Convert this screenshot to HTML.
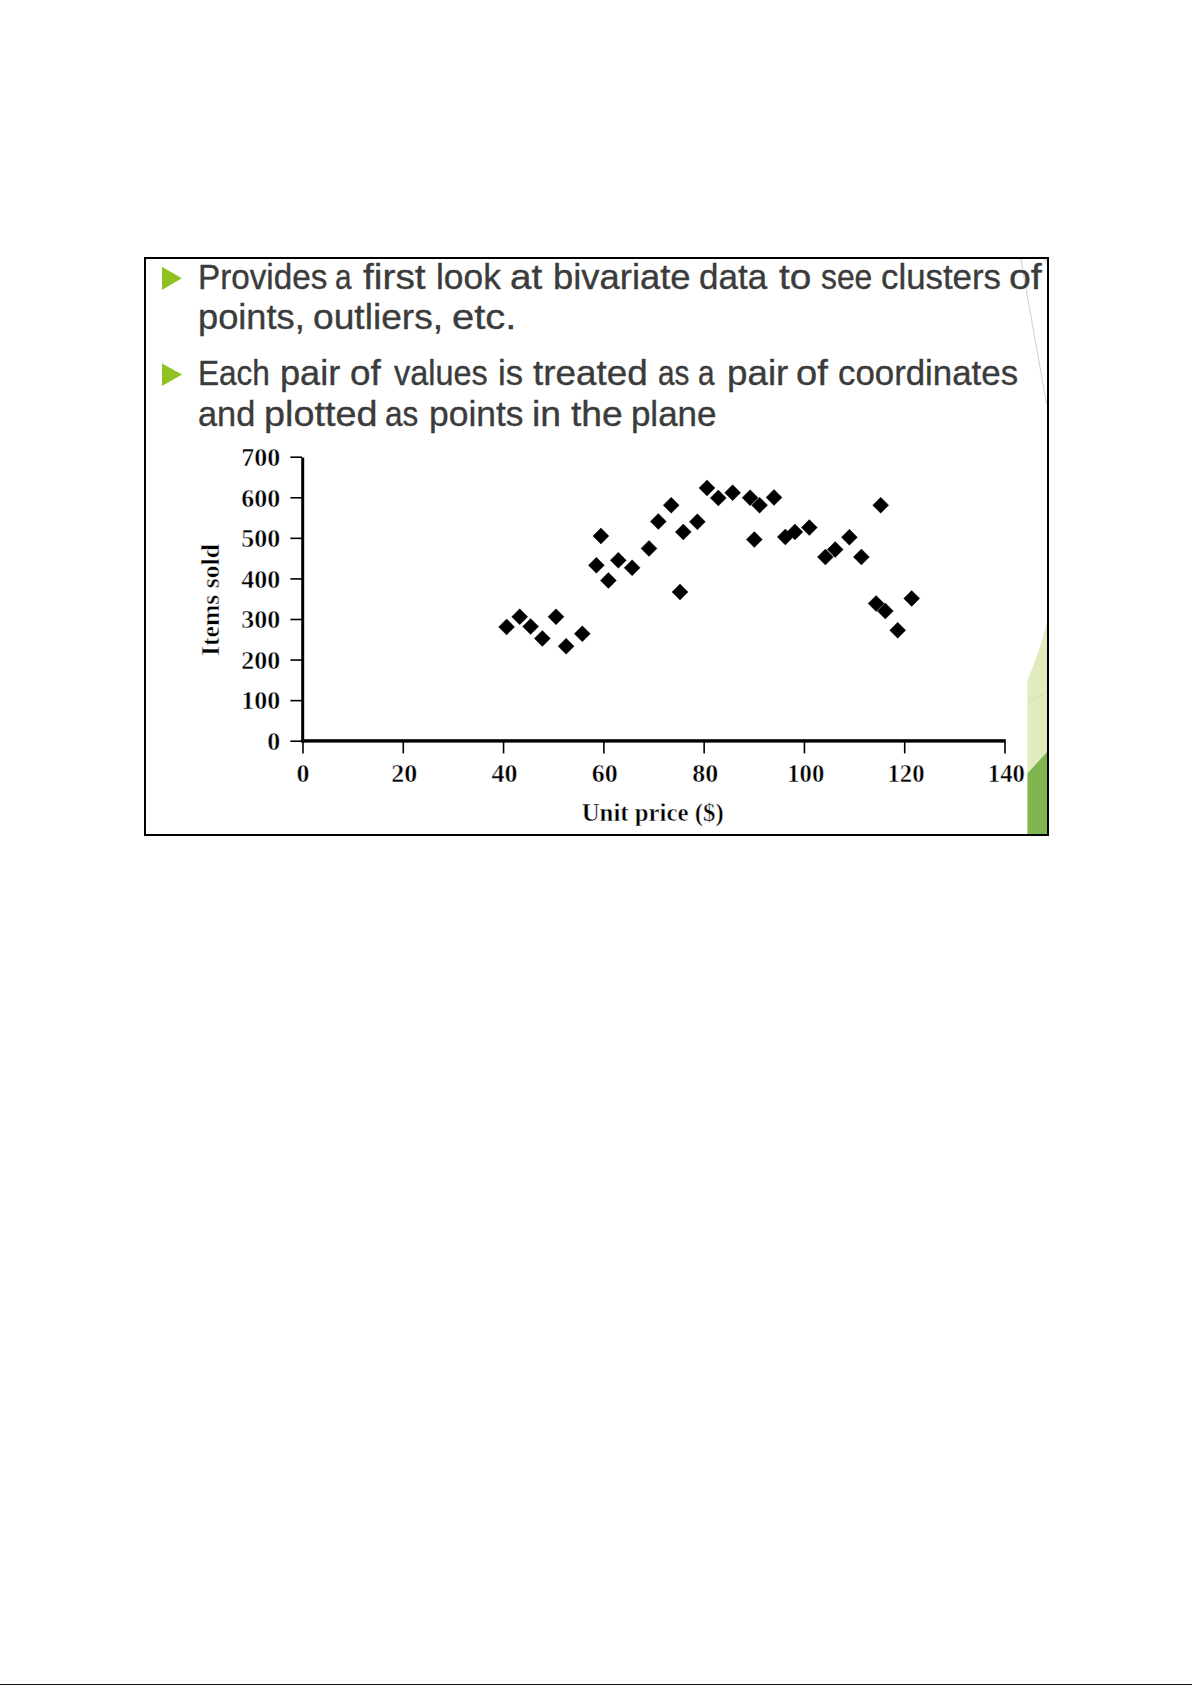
<!DOCTYPE html>
<html><head><meta charset="utf-8"><style>
html,body{margin:0;padding:0;background:#fff;}
body{width:1192px;height:1685px;position:relative;overflow:hidden;}
.t{position:absolute;left:0;top:0;white-space:nowrap;font-family:"Liberation Sans",sans-serif;font-size:35px;color:#3b3b3b;line-height:1;transform-origin:0 0;-webkit-text-stroke:0.35px #3b3b3b;}
svg{position:absolute;left:0;top:0;}
</style></head><body>
<svg width="1192" height="1685" viewBox="0 0 1192 1685">
  <!-- slide decorations -->
  <line x1="1020.8" y1="259" x2="1046.5" y2="404" stroke="#cfcfcf" stroke-width="1"/>
  <path d="M1047 622.3 Q1040 651 1027.5 680 L1027.5 834 L1047 834 Z" fill="#e0ecbd"/>
  <line x1="1028" y1="703" x2="1047" y2="691" stroke="#cfe0b0" stroke-width="1"/>
  <path d="M1027.5 773.5 L1047 752 L1047 834 L1027.5 834 Z" fill="#7eb550"/>
  <path d="M1042.5 259 L1047 259 L1047 265 Z" fill="#e3f1d3"/>
  <!-- frame -->
  <rect x="145" y="258" width="903" height="577" fill="none" stroke="#000" stroke-width="2"/>
  <!-- bullets -->
  <path d="M162 266.8 L181.8 278.3 L162 289.9 Z" fill="#91c224"/>
  <path d="M162 363.6 L182.1 374.6 L162 385.9 Z" fill="#91c224"/>
  <!-- chart -->
  <g stroke="#000" stroke-width="1.6"><line x1="290.4" y1="741.20" x2="302" y2="741.20"/><line x1="290.4" y1="700.63" x2="302" y2="700.63"/><line x1="290.4" y1="660.06" x2="302" y2="660.06"/><line x1="290.4" y1="619.49" x2="302" y2="619.49"/><line x1="290.4" y1="578.91" x2="302" y2="578.91"/><line x1="290.4" y1="538.34" x2="302" y2="538.34"/><line x1="290.4" y1="497.77" x2="302" y2="497.77"/><line x1="290.4" y1="457.20" x2="302" y2="457.20"/><line x1="303.00" y1="742" x2="303.00" y2="753.4"/><line x1="403.29" y1="742" x2="403.29" y2="753.4"/><line x1="503.57" y1="742" x2="503.57" y2="753.4"/><line x1="603.86" y1="742" x2="603.86" y2="753.4"/><line x1="704.14" y1="742" x2="704.14" y2="753.4"/><line x1="804.43" y1="742" x2="804.43" y2="753.4"/><line x1="904.71" y1="742" x2="904.71" y2="753.4"/><line x1="1005.00" y1="742" x2="1005.00" y2="753.4"/></g>
  <rect x="301.2" y="457.5" width="3" height="285" fill="#000"/>
  <rect x="301.2" y="739.2" width="704.6" height="3.4" fill="#000"/>
  <g fill="#000" stroke="#000" stroke-width="0.4" stroke-linejoin="miter"><path d="M498.6 626.9L506.6 618.9L514.6 626.9L506.6 634.9Z"/><path d="M511.7 616.8L519.7 608.8L527.7 616.8L519.7 624.8Z"/><path d="M522.6 626.5L530.6 618.5L538.6 626.5L530.6 634.5Z"/><path d="M534.3 638.4L542.3 630.4L550.3 638.4L542.3 646.4Z"/><path d="M548.0 616.8L556.0 608.8L564.0 616.8L556.0 624.8Z"/><path d="M558.1 646.3L566.1 638.3L574.1 646.3L566.1 654.3Z"/><path d="M574.3 633.8L582.3 625.8L590.3 633.8L582.3 641.8Z"/><path d="M592.9 536.0L600.9 528.0L608.9 536.0L600.9 544.0Z"/><path d="M588.4 565.3L596.4 557.3L604.4 565.3L596.4 573.3Z"/><path d="M610.3 560.3L618.3 552.3L626.3 560.3L618.3 568.3Z"/><path d="M600.4 580.4L608.4 572.4L616.4 580.4L608.4 588.4Z"/><path d="M624.1 567.8L632.1 559.8L640.1 567.8L632.1 575.8Z"/><path d="M641.0 548.4L649.0 540.4L657.0 548.4L649.0 556.4Z"/><path d="M650.3 521.5L658.3 513.5L666.3 521.5L658.3 529.5Z"/><path d="M663.2 505.2L671.2 497.2L679.2 505.2L671.2 513.2Z"/><path d="M675.3 531.9L683.3 523.9L691.3 531.9L683.3 539.9Z"/><path d="M689.4 521.8L697.4 513.8L705.4 521.8L697.4 529.8Z"/><path d="M672.0 592.0L680.0 584.0L688.0 592.0L680.0 600.0Z"/><path d="M699.0 487.9L707.0 479.9L715.0 487.9L707.0 495.9Z"/><path d="M710.3 497.9L718.3 489.9L726.3 497.9L718.3 505.9Z"/><path d="M724.6 492.7L732.6 484.7L740.6 492.7L732.6 500.7Z"/><path d="M742.1 497.7L750.1 489.7L758.1 497.7L750.1 505.7Z"/><path d="M751.6 505.2L759.6 497.2L767.6 505.2L759.6 513.2Z"/><path d="M766.0 497.4L774.0 489.4L782.0 497.4L774.0 505.4Z"/><path d="M746.3 539.5L754.3 531.5L762.3 539.5L754.3 547.5Z"/><path d="M777.3 536.9L785.3 528.9L793.3 536.9L785.3 544.9Z"/><path d="M786.9 531.9L794.9 523.9L802.9 531.9L794.9 539.9Z"/><path d="M801.3 527.6L809.3 519.6L817.3 527.6L809.3 535.6Z"/><path d="M841.4 537.3L849.4 529.3L857.4 537.3L849.4 545.3Z"/><path d="M827.2 549.6L835.2 541.6L843.2 549.6L835.2 557.6Z"/><path d="M817.4 557.0L825.4 549.0L833.4 557.0L825.4 565.0Z"/><path d="M853.4 557.0L861.4 549.0L869.4 557.0L861.4 565.0Z"/><path d="M872.7 505.2L880.7 497.2L888.7 505.2L880.7 513.2Z"/><path d="M868.1 603.5L876.1 595.5L884.1 603.5L876.1 611.5Z"/><path d="M877.3 611.0L885.3 603.0L893.3 611.0L885.3 619.0Z"/><path d="M903.7 598.4L911.7 590.4L919.7 598.4L911.7 606.4Z"/><path d="M889.7 630.3L897.7 622.3L905.7 630.3L897.7 638.3Z"/></g>
  <g font-family="Liberation Serif" font-weight="bold" font-size="26" fill="#000" stroke="#fff" stroke-width="0.5"><text x="280.3" y="750.00" text-anchor="end">0</text><text x="280.3" y="709.43" text-anchor="end">100</text><text x="280.3" y="668.86" text-anchor="end">200</text><text x="280.3" y="628.29" text-anchor="end">300</text><text x="280.3" y="587.71" text-anchor="end">400</text><text x="280.3" y="547.14" text-anchor="end">500</text><text x="280.3" y="506.57" text-anchor="end">600</text><text x="280.3" y="466.00" text-anchor="end">700</text><text x="303.00" y="782" text-anchor="middle">0</text><text x="404.29" y="782" text-anchor="middle">20</text><text x="504.57" y="782" text-anchor="middle">40</text><text x="604.86" y="782" text-anchor="middle">60</text><text x="705.14" y="782" text-anchor="middle">80</text><text x="805.73" y="782" text-anchor="middle" textLength="37" lengthAdjust="spacingAndGlyphs">100</text><text x="906.01" y="782" text-anchor="middle" textLength="37" lengthAdjust="spacingAndGlyphs">120</text><text x="1006.30" y="782" text-anchor="middle" textLength="37" lengthAdjust="spacingAndGlyphs">140</text>
  <text x="652.7" y="820.7" text-anchor="middle" font-size="26" textLength="142" lengthAdjust="spacingAndGlyphs">Unit price ($)</text>
  <text transform="translate(218.8 600) rotate(-90)" text-anchor="middle" font-size="26" textLength="112" lengthAdjust="spacingAndGlyphs">Items sold</text>
  </g>
  <rect x="0" y="1684" width="1192" height="1" fill="#111"/>
</svg>
<div class="t" style="left:197.65px;top:258.5px;transform:scaleX(0.950)">Provides</div><div class="t" style="left:335.10px;top:258.5px;transform:scaleX(0.850)">a</div><div class="t" style="left:362.89px;top:258.5px;transform:scaleX(1.111)">first</div><div class="t" style="left:436.18px;top:258.5px;transform:scaleX(1.010)">look</div><div class="t" style="left:510.29px;top:258.5px;transform:scaleX(1.104)">at</div><div class="t" style="left:553.02px;top:258.5px;transform:scaleX(1.040)">bivariate</div><div class="t" style="left:698.99px;top:258.5px">data</div><div class="t" style="left:778.89px;top:258.5px;transform:scaleX(1.107)">to</div><div class="t" style="left:820.99px;top:258.5px;transform:scaleX(0.909)">see</div><div class="t" style="left:881.11px;top:258.5px;transform:scaleX(0.995)">clusters</div><div class="t" style="left:1009.16px;top:258.5px;transform:scaleX(1.122)">of</div><div class="t" style="left:198.43px;top:298.8px;transform:scaleX(1.035)">points,</div><div class="t" style="left:312.88px;top:298.8px;transform:scaleX(1.062)">outliers,</div><div class="t" style="left:451.71px;top:298.8px;transform:scaleX(1.143)">etc.</div><div class="t" style="left:197.80px;top:355.2px;transform:scaleX(0.901)">Each</div><div class="t" style="left:280.14px;top:355.2px;transform:scaleX(1.032)">pair</div><div class="t" style="left:349.90px;top:355.2px;transform:scaleX(1.052)">of</div><div class="t" style="left:394.20px;top:355.2px;transform:scaleX(0.927)">values</div><div class="t" style="left:498.02px;top:355.2px;transform:scaleX(0.991)">is</div><div class="t" style="left:533.25px;top:355.2px;transform:scaleX(1.052)">treated</div><div class="t" style="left:657.60px;top:355.2px;transform:scaleX(0.850)">as</div><div class="t" style="left:698.10px;top:355.2px;transform:scaleX(0.850)">a</div><div class="t" style="left:727.20px;top:355.2px;transform:scaleX(1.050)">pair</div><div class="t" style="left:795.82px;top:355.2px;transform:scaleX(1.089)">of</div><div class="t" style="left:837.71px;top:355.2px;transform:scaleX(0.995)">coordinates</div><div class="t" style="left:197.84px;top:395.5px;transform:scaleX(0.981)">and</div><div class="t" style="left:263.74px;top:395.5px;transform:scaleX(1.079)">plotted</div><div class="t" style="left:385.10px;top:395.5px;transform:scaleX(0.900)">as</div><div class="t" style="left:428.58px;top:395.5px;transform:scaleX(1.012)">points</div><div class="t" style="left:531.77px;top:395.5px;transform:scaleX(1.065)">in</div><div class="t" style="left:570.64px;top:395.5px;transform:scaleX(1.063)">the</div><div class="t" style="left:630.90px;top:395.5px">plane</div>
</body></html>
